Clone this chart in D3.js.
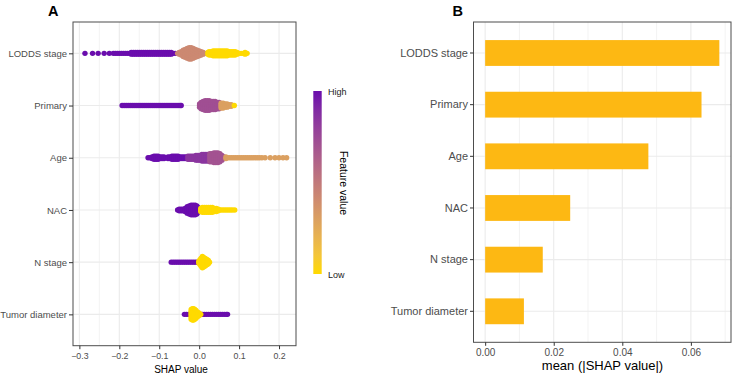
<!DOCTYPE html>
<html><head><meta charset="utf-8">
<script src="https://cdn.jsdelivr.net/npm/d3@7"></script>
<style>
body{margin:0;background:#fff}
svg{display:block}
text{font-family:"Liberation Sans",Arial,Helvetica,sans-serif}
</style>
</head><body>
<svg id="chart" width="733" height="374"></svg>
<script>
// ---------------- DATA ----------------
const features = ["LODDS stage","Primary","Age","NAC","N stage","Tumor diameter"];
const shapTicks = [-0.3,-0.2,-0.1,0,0.1,0.2];
const shapMinorTicks = [-0.25,-0.15,-0.05,0.05,0.15];
const meanTicks = [0,0.02,0.04,0.06];
const meanMinorTicks = [0.01,0.03,0.05,0.07];
const meanAbsShap = [0.0683,0.0631,0.0476,0.0248,0.0168,0.0113];
const legendLabels = ["High","Low"];

// beeswarm points: [SHAP value, number of stacked points, feature value (0 low .. 1 high)]
const loddsPoints = [
 [-0.286,1,1],[-0.267,1,1],[-0.253,1,1],[-0.238,1,1],[-0.225,1,1],[-0.215,1,1],[-0.21,1,1],[-0.205,1,1],
 [-0.2,1,1],[-0.195,1,1],[-0.19,1,1],[-0.185,1,1],[-0.18,1,1],[-0.175,1,1],[-0.17,2,1],[-0.165,2,1],
 [-0.16,2,1],[-0.155,2,1],[-0.15,2,1],[-0.145,2,1],[-0.14,2,1],[-0.135,2,1],[-0.13,2,1],[-0.125,2,1],
 [-0.12,2,1],[-0.115,2,1],[-0.11,2,1],[-0.105,2,1],[-0.1,2,1],[-0.095,2,1],[-0.09,2,1],[-0.085,2,1],
 [-0.08,2,1],[-0.075,2,1],[-0.07,2,1],[-0.065,1,1],[-0.06,1,1],
 [-0.054,1,0.42],[-0.05,2,0.42],[-0.045,3,0.42],[-0.04,5,0.42],[-0.035,6,0.42],[-0.03,7,0.42],[-0.025,8,0.42],
 [-0.02,8,0.42],[-0.015,7,0.42],[-0.01,6,0.42],[-0.005,5,0.42],[0,4,0.42],[0.005,3,0.42],[0.01,2,0.42],[0.013,1,0.42],
 [0.022,2,0],[0.025,3,0],[0.03,3,0],[0.035,4,0],[0.04,4,0],[0.045,4,0],[0.05,4,0],[0.055,4,0],[0.06,4,0],
 [0.065,4,0],[0.07,4,0],[0.075,3,0],[0.08,3,0],[0.085,3,0],[0.09,3,0],[0.095,2,0],[0.1,1,0],[0.105,1,0],
 [0.11,1,0],[0.115,2,0],[0.12,1,0]
];
const primaryPoints = [
 [-0.193,1,1],[-0.188,1,1],[-0.183,1,1],[-0.178,1,1],[-0.173,1,1],[-0.168,1,1],[-0.163,1,1],[-0.158,1,1],
 [-0.153,1,1],[-0.148,1,1],[-0.143,1,1],[-0.138,1,1],[-0.133,1,1],[-0.128,1,1],[-0.123,1,1],[-0.118,1,1],
 [-0.113,1,1],[-0.108,1,1],[-0.103,1,1],[-0.098,1,1],[-0.093,1,1],[-0.088,1,1],[-0.083,1,1],[-0.078,1,1],
 [-0.073,1,1],[-0.068,1,1],[-0.063,1,1],[-0.058,1,1],[-0.053,1,1],[-0.048,1,1],[-0.045,1,1],
 [0.001,3,0.72],[0.005,5,0.72],[0.01,6,0.72],[0.015,7,0.72],[0.02,7,0.72],[0.025,7,0.72],[0.03,6,0.72],
 [0.035,6,0.72],[0.04,6,0.72],[0.045,5,0.72],[0.05,5,0.72],
 [0.055,4,0.3],[0.06,4,0.3],[0.065,3,0.3],[0.07,3,0.3],[0.075,2,0.3],[0.08,2,0.3],[0.084,1,0.3],
 [0.088,1,0]
];
const agePoints = [
 [-0.128,1,1],[-0.123,1,1],[-0.118,2,1],[-0.113,3,1],[-0.108,3,1],[-0.103,3,1],[-0.098,2,1],[-0.093,2,1],
 [-0.088,2,1],[-0.083,1,1],[-0.078,2,1],[-0.073,2,1],[-0.068,3,1],[-0.063,3,1],[-0.058,3,1],[-0.053,3,1],
 [-0.048,2,1],[-0.043,2,1],[-0.038,2,1],[-0.033,2,1],
 [-0.028,3,0.85],[-0.023,3,0.85],[-0.018,3,0.85],[-0.013,3,0.85],[-0.008,4,0.85],[-0.003,4,0.85],
 [0.002,4,0.85],[0.007,5,0.85],[0.012,5,0.85],[0.017,5,0.85],[0.022,5,0.85],
 [0.027,6,0.7],[0.032,6,0.7],[0.037,7,0.7],[0.042,7,0.7],[0.047,7,0.7],[0.052,6,0.7],[0.057,4,0.7],[0.062,2,0.7],
 [0.067,2,0.3],[0.071,1,0.3],[0.076,1,0.3],[0.081,1,0.3],[0.086,1,0.3],[0.091,1,0.3],[0.096,1,0.3],[0.101,1,0.3],
 [0.106,1,0.3],[0.111,1,0.3],[0.116,1,0.3],[0.121,1,0.3],[0.126,1,0.3],[0.131,1,0.3],[0.136,1,0.3],[0.141,1,0.3],
 [0.146,1,0.3],[0.151,1,0.3],[0.157,1,0.3],[0.165,1,0.3],[0.178,1,0.3],[0.19,1,0.3],[0.2,1,0.3],[0.21,1,0.3],[0.219,1,0.3]
];
const nacPoints = [
 [-0.054,1,1],[-0.05,2,1],[-0.045,2,1],[-0.04,2,1],[-0.035,3,1],[-0.03,5,1],[-0.025,6,1],[-0.02,7,1],
 [-0.015,7,1],[-0.01,7,1],[-0.006,6,1],[-0.003,4,1],
 [0.004,3,0],[0.008,4,0],[0.013,4,0],[0.018,4,0],[0.023,4,0],[0.028,4,0],[0.033,4,0],[0.038,3,0],
 [0.043,3,0],[0.048,2,0],[0.053,1,0],[0.058,1,0],[0.063,1,0],[0.068,1,0],[0.073,1,0],[0.078,1,0],
 [0.083,1,0],[0.089,1,0]
];
const nStagePoints = [
 [-0.07,1,1],[-0.065,1,1],[-0.06,1,1],[-0.055,1,1],[-0.05,1,1],[-0.045,1,1],[-0.04,1,1],[-0.035,1,1],
 [-0.03,1,1],[-0.025,1,1],[-0.02,1,1],[-0.015,1,1],[-0.01,1,1],[-0.005,1,1],
 [-0.001,2,0],[0.002,4,0],[0.005,6,0],[0.008,8,0],[0.011,7,0],[0.014,6,0],[0.017,5,0],[0.02,4,0],
 [0.023,3,0],[0.026,1,0]
];
const tumorPoints = [
 [-0.037,1,1],[-0.032,1,1],[-0.027,1,1],[-0.022,1,1],[-0.017,1,1],[-0.012,1,1],[-0.007,1,1],[-0.002,1,1],
 [0.003,1,1],[0.008,1,1],[0.013,1,1],[0.018,1,1],[0.023,1,1],[0.028,1,1],[0.033,1,1],[0.038,1,1],
 [0.043,1,1],[0.048,1,1],[0.053,1,1],[0.058,1,1],[0.063,1,1],[0.068,1,1],[0.071,1,1],
 [-0.02,7,0],[-0.017,8,0],[-0.014,8,0],[-0.011,7,0],[-0.008,6,0],[-0.005,4,0],[-0.002,3,0],[0.001,2,0],[0.004,1,0]
];
const pointsByFeature = [loddsPoints, primaryPoints, agePoints, nacPoints, nStagePoints, tumorPoints];

// ---------------- STYLE ----------------
const lowColor = "#FFDA00", highColor = "#6A0DAD", barColor = "#FDB813";
const gridColor = "#EBEBEB", borderColor = "#4D4D4D", tickText = "#4D4D4D";
const dotR = 2.7, stackGap = 1.6;

const svg = d3.select("#chart");
const color = d3.scaleLinear().domain([0,1]).range([lowColor, highColor]).interpolate(d3.interpolateLab);

// ---------------- PANEL A ----------------
const A = {left:73, right:296, top:22, bottom:345.7};
const x = d3.scaleLinear().domain([-0.316, 0.2425]).range([A.left, A.right]);
const y = d3.scalePoint().domain(features).range([A.top, A.bottom]).padding(0.6);

const gA = svg.append("g");
gA.append("rect").attr("x",A.left).attr("y",A.top).attr("width",A.right-A.left).attr("height",A.bottom-A.top).attr("fill","#fff");
gA.selectAll("line.minx").data(shapMinorTicks).join("line")
  .attr("x1",d=>x(d)).attr("x2",d=>x(d)).attr("y1",A.top).attr("y2",A.bottom)
  .attr("stroke",gridColor).attr("stroke-width",0.6);
gA.selectAll("line.majx").data(shapTicks).join("line")
  .attr("x1",d=>x(d)).attr("x2",d=>x(d)).attr("y1",A.top).attr("y2",A.bottom)
  .attr("stroke",gridColor).attr("stroke-width",1.1);
gA.selectAll("line.majy").data(features).join("line")
  .attr("y1",d=>y(d)).attr("y2",d=>y(d)).attr("x1",A.left).attr("x2",A.right)
  .attr("stroke",gridColor).attr("stroke-width",1.1);

const dots = [];
features.forEach((f,i)=>{
  pointsByFeature[i].forEach(([s,n,fv])=>{
    for(let k=0;k<n;k++) dots.push({cx:x(s), cy:y(f)+(k-(n-1)/2)*stackGap, fv});
  });
});
gA.append("g").selectAll("circle").data(dots).join("circle")
  .attr("cx",d=>d.cx).attr("cy",d=>d.cy).attr("r",dotR)
  .attr("fill",d=>color(d.fv));

gA.append("rect").attr("x",A.left).attr("y",A.top).attr("width",A.right-A.left).attr("height",A.bottom-A.top)
  .attr("fill","none").attr("stroke",borderColor).attr("stroke-width",1);

const axA_x = gA.append("g").attr("transform",`translate(0,${A.bottom})`)
  .call(d3.axisBottom(x).tickValues(shapTicks).tickFormat(d3.format(".1f")).tickSize(3.5).tickPadding(3.5));
const axA_y = gA.append("g").attr("transform",`translate(${A.left},0)`)
  .call(d3.axisLeft(y).tickSize(4).tickPadding(2));
[axA_x, axA_y].forEach(g=>{
  g.select(".domain").remove();
  g.selectAll(".tick line").attr("stroke","#333");
});
axA_x.selectAll("text").attr("fill",tickText).style("font-size","8.8px");
axA_y.selectAll("text").attr("fill",tickText).style("font-size","9.5px");

svg.append("text").attr("x",181).attr("y",372.5).attr("text-anchor","middle")
  .style("font-size","10px").attr("fill","#000").text("SHAP value");
svg.append("text").attr("x",48).attr("y",15.5).style("font-size","14.5px").style("font-weight","bold").text("A");

// legend
const defs = svg.append("defs");
const grad = defs.append("linearGradient").attr("id","fvgrad").attr("x1",0).attr("y1",0).attr("x2",0).attr("y2",1);
d3.range(0,1.0001,0.1).forEach(t=>grad.append("stop").attr("offset",t).attr("stop-color",color(1-t)));
svg.append("rect").attr("x",313.3).attr("y",91).attr("width",8.4).attr("height",183).attr("fill","url(#fvgrad)");
svg.append("text").attr("x",328).attr("y",92).attr("dominant-baseline","central")
  .style("font-size","9px").attr("fill","#222").text(legendLabels[0]);
svg.append("text").attr("x",328).attr("y",274.5).attr("dominant-baseline","central")
  .style("font-size","9px").attr("fill","#222").text(legendLabels[1]);
svg.append("text").attr("transform","translate(344,183) rotate(90)").attr("text-anchor","middle")
  .attr("dominant-baseline","central").style("font-size","10.5px").attr("fill","#000").text("Feature value");

// ---------------- PANEL B ----------------
const B = {left:473.5, right:731, top:22, bottom:342.3};
const xb = d3.scaleLinear().domain([-0.0034, 0.0717]).range([B.left, B.right]);
const yb = d3.scaleBand().domain(features).range([B.top, B.bottom]).paddingInner(0.5).paddingOuter(0.35);

const gB = svg.append("g");
gB.append("rect").attr("x",B.left).attr("y",B.top).attr("width",B.right-B.left).attr("height",B.bottom-B.top).attr("fill","#fff");
gB.selectAll("line.minx").data(meanMinorTicks).join("line")
  .attr("x1",d=>xb(d)).attr("x2",d=>xb(d)).attr("y1",B.top).attr("y2",B.bottom)
  .attr("stroke",gridColor).attr("stroke-width",0.6);
gB.selectAll("line.majx").data(meanTicks).join("line")
  .attr("x1",d=>xb(d)).attr("x2",d=>xb(d)).attr("y1",B.top).attr("y2",B.bottom)
  .attr("stroke",gridColor).attr("stroke-width",1.1);
gB.selectAll("line.majy").data(features).join("line")
  .attr("y1",d=>yb(d)+yb.bandwidth()/2).attr("y2",d=>yb(d)+yb.bandwidth()/2).attr("x1",B.left).attr("x2",B.right)
  .attr("stroke",gridColor).attr("stroke-width",1.1);
gB.selectAll("rect.bar").data(features).join("rect")
  .attr("x",xb(0)).attr("y",d=>yb(d)).attr("height",yb.bandwidth())
  .attr("width",(d,i)=>xb(meanAbsShap[i])-xb(0)).attr("fill",barColor);
gB.append("rect").attr("x",B.left).attr("y",B.top).attr("width",B.right-B.left).attr("height",B.bottom-B.top)
  .attr("fill","none").attr("stroke",borderColor).attr("stroke-width",1);

const axB_x = gB.append("g").attr("transform",`translate(0,${B.bottom})`)
  .call(d3.axisBottom(xb).tickValues(meanTicks).tickFormat(d3.format(".2f")).tickSize(3.5).tickPadding(3.5));
const axB_y = gB.append("g").attr("transform",`translate(${B.left},0)`)
  .call(d3.axisLeft(yb).tickSize(3.5).tickPadding(2));
[axB_x, axB_y].forEach(g=>{
  g.select(".domain").remove();
  g.selectAll(".tick line").attr("stroke","#333");
});
axB_x.selectAll("text").attr("fill",tickText).style("font-size","10px");
axB_y.selectAll("text").attr("fill",tickText).style("font-size","11px");

svg.append("text").attr("x",602.5).attr("y",369.5).attr("text-anchor","middle")
  .style("font-size","13px").attr("fill","#000").text("mean (|SHAP value|)");
svg.append("text").attr("x",452.5).attr("y",15.5).style("font-size","14.5px").style("font-weight","bold").text("B");
</script>
</body></html>
